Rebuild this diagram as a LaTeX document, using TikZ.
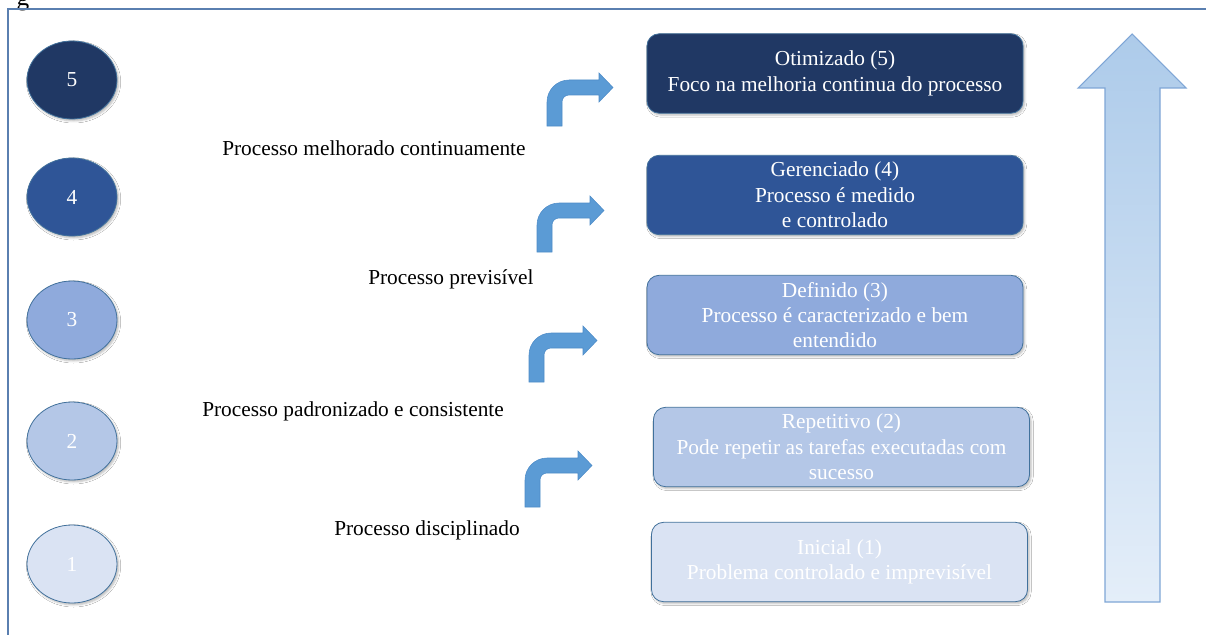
\documentclass[tikz,border=0pt]{standalone}
\usepackage{fontspec}
\setmainfont{Liberation Serif}
\usetikzlibrary{shapes.geometric,shadows.blur}

\definecolor{lvlfive}{HTML}{203864}
\definecolor{lvlfour}{HTML}{2F5597}
\definecolor{lvlthree}{HTML}{8FAADC}
\definecolor{lvltwo}{HTML}{B4C7E7}
\definecolor{lvlone}{HTML}{DAE3F3}
\definecolor{edgeblue}{HTML}{41719C}
\definecolor{bendfill}{HTML}{5B9BD5}
\definecolor{bendedge}{HTML}{4E8CC8}
\definecolor{upedge}{HTML}{7FA6D6}
\definecolor{uptop}{HTML}{ADCBEA}
\definecolor{upbottom}{HTML}{E4EEF9}
\definecolor{framecol}{HTML}{5A7FB0}

% bent arrow: stem left x, stem bottom y, bar top y, tip x
\newcommand\bentarrow[4]{%
  \filldraw[fill=bendfill, draw=bendedge, line width=0.4pt]
    (#1,#2) -- (#1,#3+22)
    .. controls (#1,#3+9.9) and (#1+9.9,#3) .. (#1+22,#3)
    -- (#4-14,#3) -- (#4-14,#3-7) -- (#4,#3+7.5) -- (#4-14,#3+22) -- (#4-14,#3+15)
    -- (#1+22,#3+15)
    .. controls (#1+18.1,#3+15) and (#1+15,#3+18.1) .. (#1+15,#3+22)
    -- (#1+15,#2) -- cycle;}

\tikzset{
  txt/.style={font=\fontsize{16}{19}\selectfont},
  softshadow/.style={blur shadow={shadow xshift=1.2pt, shadow yshift=-1.4pt,
      shadow blur radius=1.6pt, shadow opacity=28}},
  levelbox/.style={txt, rounded corners=9pt, draw=edgeblue, line width=0.6pt,
      minimum width=282pt, minimum height=59.5pt, align=center, text=white,
      inner sep=2pt, softshadow},
  levelball/.style={txt, ellipse, draw=edgeblue, line width=0.6pt,
      minimum width=67.5pt, minimum height=58.5pt, inner sep=0pt, text=white,
      softshadow},
  steplabel/.style={txt, anchor=west, inner sep=0pt, text=black},
}

\begin{document}
\begin{tikzpicture}[x=0.75pt, y=-0.75pt]
\useasboundingbox (0,0) rectangle (1206,635);
\fill[white] (0,0) rectangle (1206,635);

% caption fragment and frame
\node[txt, anchor=base, inner sep=0pt, font=\fontsize{19}{22}\selectfont] (capg) at (23,6) {g};
\draw[framecol, line width=1.1pt] (8,635) -- (8,9) -- (1206,9);

% level numbers
\node[levelball, fill=lvlfive]  (c5) at (72,80)  {5};
\node[levelball, fill=lvlfour]  (c4) at (72,197) {4};
\node[levelball, fill=lvlthree] (c3) at (72,320) {3};
\node[levelball, fill=lvltwo]   (c2) at (72,441) {2};
\node[levelball, fill=lvlone]   (c1) at (72,564) {1};

% level descriptions
\node[levelbox, fill=lvlfive]  (b5) at (835,73.5) {Otimizado (5)\\Foco na melhoria continua do processo};
\node[levelbox, fill=lvlfour]  (b4) at (835,195)  {Gerenciado (4)\\Processo é medido\\e controlado};
\node[levelbox, fill=lvlthree] (b3) at (835,315)  {Definido (3)\\Processo é caracterizado e bem\\entendido};
\node[levelbox, fill=lvltwo]   (b2) at (841.5,447) {Repetitivo (2)\\Pode repetir as tarefas executadas com\\sucesso};
\node[levelbox, fill=lvlone]   (b1) at (839.5,562) {Inicial (1)\\Problema controlado e imprevisível};

% transitions
\node[steplabel] (t4) at (222,148) {Processo melhorado continuamente};
\node[steplabel] (t3) at (368,279) {Processo previsível};
\node[steplabel] (t2) at (202,411) {Processo padronizado e consistente};
\node[steplabel] (t1) at (334,530) {Processo disciplinado};

\bentarrow{547}{126}{80}{613}
\bentarrow{537}{252}{203}{604}
\bentarrow{529}{382}{333}{597}
\bentarrow{525}{507}{458}{592}

% maturity axis
\draw[draw=upedge, line width=0.8pt, top color=uptop, bottom color=upbottom]
  (1105,602) -- (1105,88) -- (1078,88) -- (1132,34) -- (1186,88)
  -- (1160,88) -- (1160,602) -- cycle;
\end{tikzpicture}
\end{document}
